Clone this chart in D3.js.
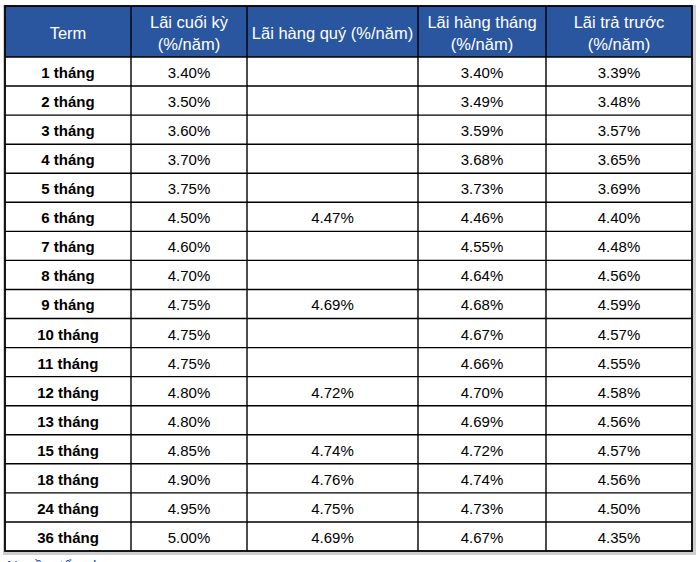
<!DOCTYPE html>
<html>
<head>
<meta charset="utf-8">
<script src="https://cdn.jsdelivr.net/npm/d3@7"></script>
<style>
  html, body { margin: 0; padding: 0; background: #fff; }
  svg { display: block; }
</style>
</head>
<body>
<div id="chart"></div>
<script>
// Table content
const headers = [
  ["Term"],
  ["Lãi cuối kỳ", "(%/năm)"],
  ["Lãi hàng quý (%/năm)"],
  ["Lãi hàng tháng", "(%/năm)"],
  ["Lãi trả trước", "(%/năm)"]
];
const terms = ["1 tháng", "2 tháng", "3 tháng", "4 tháng", "5 tháng", "6 tháng", "7 tháng",
  "8 tháng", "9 tháng", "10 tháng", "11 tháng", "12 tháng", "13 tháng", "15 tháng",
  "18 tháng", "24 tháng", "36 tháng"];
const cuoiKy = [3.40, 3.50, 3.60, 3.70, 3.75, 4.50, 4.60, 4.70, 4.75, 4.75, 4.75, 4.80, 4.80, 4.85, 4.90, 4.95, 5.00];
const hangQuy = [null, null, null, null, null, 4.47, null, null, 4.69, null, null, 4.72, null, 4.74, 4.76, 4.75, 4.69];
const hangThang = [3.40, 3.49, 3.59, 3.68, 3.73, 4.46, 4.55, 4.64, 4.68, 4.67, 4.66, 4.70, 4.69, 4.72, 4.74, 4.73, 4.67];
const traTruoc = [3.39, 3.48, 3.57, 3.65, 3.69, 4.40, 4.48, 4.56, 4.59, 4.57, 4.55, 4.58, 4.56, 4.57, 4.56, 4.50, 4.35];
const note = "Nguồn: tổng hợp";

(function () {
  const W = 700, H = 562;
  const FONT = "Liberation Sans, Arial, sans-serif";
  const BLUE = "#2a56a0";

  // column edges (px)
  const colEdges = [5, 131, 247, 418, 546, 692];
  const tableTop = 6, headH = 51, tableBottom = 551;
  const tableW = colEdges[5] - colEdges[0];

  const rows = terms.map((t, i) => [t, cuoiKy[i], hangQuy[i], hangThang[i], traTruoc[i]]);

  const y = d3.scaleBand()
    .domain(d3.range(rows.length))
    .range([tableTop + headH, tableBottom]);

  const fmt = (v) => (v == null ? "" : d3.format(".2f")(v) + "%");

  const svg = d3.select("#chart").append("svg")
    .attr("width", W).attr("height", H);

  // soft grey shadow round the table
  svg.append("rect")
    .attr("x", colEdges[0] - 2).attr("y", tableTop - 1)
    .attr("width", tableW + 6).attr("height", tableBottom - tableTop + 5)
    .attr("fill", "#cfcfcf");

  svg.append("rect")
    .attr("x", colEdges[0]).attr("y", tableTop)
    .attr("width", tableW).attr("height", tableBottom - tableTop)
    .attr("fill", "#fff");

  // header background
  svg.append("rect")
    .attr("x", colEdges[0]).attr("y", tableTop)
    .attr("width", tableW).attr("height", headH)
    .attr("fill", BLUE);

  // header text: baselines for one- and two-line headers
  const hg = svg.append("g");
  headers.forEach((lines, c) => {
    const cx = (colEdges[c] + colEdges[c + 1]) / 2;
    const base = lines.length === 1 ? [33] : [22, 44];
    lines.forEach((ln, k) => {
      hg.append("text")
        .attr("x", cx)
        .attr("y", tableTop + base[k])
        .attr("text-anchor", "middle")
        .attr("fill", "#fff")
        .style("font", `16.5px ${FONT}`)
        .text(ln);
    });
  });

  // body text
  const body = svg.append("g");
  rows.forEach((r, i) => {
    r.forEach((v, c) => {
      body.append("text")
        .attr("x", (colEdges[c] + colEdges[c + 1]) / 2)
        .attr("y", y(i) + 21)
        .attr("text-anchor", "middle")
        .attr("fill", "#000")
        .style("font", `${c === 0 ? "bold " : ""}15px ${FONT}`)
        .text(c === 0 ? v : fmt(v));
    });
  });

  // grid lines
  const grid = svg.append("g").attr("stroke", "#000").attr("stroke-width", 1.4);
  rows.forEach((r, i) => {
    if (i === 0) return;
    grid.append("line")
      .attr("x1", colEdges[0]).attr("x2", colEdges[5])
      .attr("y1", y(i)).attr("y2", y(i));
  });
  grid.append("line")
    .attr("x1", colEdges[0]).attr("x2", colEdges[5])
    .attr("y1", tableTop + headH).attr("y2", tableTop + headH);
  colEdges.slice(1, -1).forEach((x) => {
    grid.append("line")
      .attr("x1", x).attr("x2", x)
      .attr("y1", tableTop).attr("y2", tableBottom);
  });
  grid.append("rect")
    .attr("x", colEdges[0]).attr("y", tableTop)
    .attr("width", tableW).attr("height", tableBottom - tableTop)
    .attr("fill", "none")
    .attr("stroke-width", 1.8);

  // source note, mostly clipped at the bottom edge as in the original
  svg.append("text")
    .attr("x", 7).attr("y", 571)
    .attr("fill", "#1f4e9c")
    .style("font", `15px ${FONT}`)
    .text(note);
})();
</script>
</body>
</html>
